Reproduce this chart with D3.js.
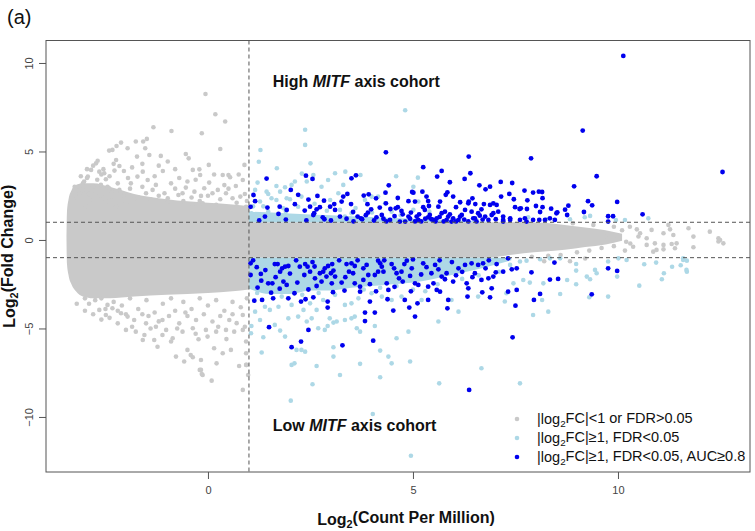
<!DOCTYPE html>
<html>
<head>
<meta charset="utf-8">
<script src="https://cdn.jsdelivr.net/npm/d3@7"></script>
<style>
  body { margin: 0; background: #fff; }
  svg { display: block; font-family: "Liberation Sans", Arial, sans-serif; }
</style>
</head>
<body>
<svg id="chart" width="755" height="531"></svg>
<script>
// axis ticks and thresholds
const xTicks = [0, 5, 10];
const yTicks = [-10, -5, 0, 5, 10];
const cpmCut = 1;   // log2 CPM cut (vertical dashed line)
const fcCut = 1;    // |log2FC| cut (horizontal dashed lines)

// dense grey core, left of the CPM cut: log2CPM, upper / lower log2FC edge
const funnelX   = [-3.45, -3.44, -3.4, -3.33, -3.22, -3.05, -2.8, -2.4, -1.8, -1.0, 0, 0.6, 1.0];
const funnelTop = [0, 1.5, 2.3, 2.8, 3.1, 3.2, 3.2, 3.0, 2.6, 2.3, 2.1, 2.0, 1.9];
const funnelBot = [0, -1.3, -2.0, -2.5, -2.9, -3.2, -3.3, -3.3, -3.2, -3.1, -3.0, -2.9, -2.8];

// dense grey band, right of the CPM cut
const bandX   = [1, 5, 6.8, 7.2, 7.7, 8.2, 8.7, 9.2, 9.7, 10.1];
const bandTop = [1, 1, 1, 1, 1, 0.97, 0.85, 0.7, 0.55, 0.35];
const bandBot = [-1, -1, -1, -0.9, -0.75, -0.65, -0.55, -0.4, -0.25, -0.05];

// dense light-blue strips just outside the FC cut
const lbLowX   = [1, 1.5, 2, 2.5, 3, 3.5, 4, 4.5, 5, 5.5, 6, 6.5, 7, 7.4];
const lbLowBot = [-2.75, -3.05, -3.05, -2.85, -2.85, -2.7, -2.6, -2.5, -2.4, -2.2, -1.95, -1.7, -1.4, -1.15];
const lbHighX   = [1, 2, 3, 4, 5, 6, 6.8];
const lbHighTop = [1.6, 1.5, 1.4, 1.3, 1.2, 1.12, 1.03];

// scattered genes: [log2CPM, log2FC]
const greyPoints = [
  [-0.06,8.25],[0.18,7.10],[0.42,6.69],[-0.15,6.03],[0.30,5.14],[-0.89,6.16],[-1.33,6.37],[-1.76,5.56],[-1.58,5.56],[-1.49,5.71],
  [-2.12,5.50],[-2.23,5.31],[-2.33,5.09],[-2.41,5.05],[-1.96,5.18],[-1.53,5.18],[-1.73,4.71],[-1.43,4.80],[-1.15,4.75],[-0.98,4.43],
  [-0.54,4.86],[-0.47,4.61],[0.02,4.24],[-0.37,3.96],[-0.21,3.99],[-0.19,3.67],[0.36,3.67],[0.50,3.67],[0.54,3.54],[0.89,4.24],
  [-2.69,4.48],[-2.73,4.33],[-2.85,3.96],[-2.93,3.58],[-3.02,3.30],[-3.10,3.01],[-3.14,2.64],[-2.24,4.52],[-2.16,4.18],[-2.28,3.92],
  [-2.65,3.86],[-2.53,3.77],[-2.49,3.43],[-2.61,3.11],[-2.41,2.92],[-2.16,2.83],[-2.33,2.45],[-1.88,3.20],[-1.72,3.58],[-1.59,3.86],
  [-1.47,3.39],[-1.35,2.83],[-1.27,3.11],[-1.51,2.64],[-1.80,2.36],[-2.00,2.07],[-1.06,2.64],[-0.98,2.36],[-0.72,2.54],[-0.62,2.64],
  [-0.54,2.96],[-0.33,2.73],[-0.17,2.49],[-0.09,2.92],[0.03,3.24],[0.11,2.64],[0.24,2.83],[0.44,2.64],[0.60,2.36],[0.68,3.05],
  [0.79,2.45],[-0.37,1.98],[-0.13,2.07],[0.20,1.98],[0.60,1.79],[0.93,1.88],[0.85,3.39],[-2.97,1.88],[-2.89,2.26],[-2.73,2.64],
  [-2.49,2.17],[-2.24,1.88],[-3.18,2.26],[-3.06,2.83],[-3.2,2.4],[-3.15,2.8],[-3.05,3.2],[-2.95,3.5],[-2.9,2.6],[-2.8,3.0],
  [-2.7,3.4],[-2.6,2.5],[-2.55,4.0],[-2.45,3.0],[-2.35,2.7],[-2.2,3.2],[-2.05,2.5],[-1.9,2.9],[-1.7,2.4],[-1.6,3.0],
  [-1.4,2.3],[-1.2,2.5],[-1.0,2.1],[-0.8,2.9],[-0.6,2.2],[-0.4,2.4],[-0.2,2.2],[0.0,2.5],[0.3,2.3],[0.5,2.9],
  [0.7,2.1],[0.9,2.6],[0.95,2.2],
  [-3.25,3.0],[-3.1,3.6],[-2.95,4.0],[-2.8,4.2],[-2.6,3.7],[-2.4,3.6],[-2.3,4.3],[-2.05,3.9],[-1.95,3.5],[-1.85,4.1],
  [-1.6,4.3],[-1.3,3.6],[-1.1,3.9],[-0.9,3.2],[-0.7,3.5],[-0.5,3.3],[-0.3,3.4],[0.15,3.7],[0.4,3.1],[0.75,3.7],
  [-1.2,4.2],[-0.8,4.0],
  [-2.65,-3.95],[-2.49,-4.24],[-2.20,-4.71],[-2.00,-5.08],[-1.76,-5.18],[-1.55,-5.37],[-1.59,-5.65],[-1.31,-5.65],[-1.23,-6.03],[-1.11,-5.37],
  [-0.86,-5.55],[-0.90,-5.74],[-0.78,-6.59],[-0.58,-6.87],[-0.42,-6.50],[-0.37,-6.63],[-0.17,-6.78],[-0.17,-7.34],[-0.13,-7.63],[0.09,-7.95],
  [0.21,-6.97],[0.15,-6.12],[0.36,-6.40],[0.56,-6.21],[0.76,-7.12],[0.93,-7.06],[0.85,-8.47],[-0.50,-6.21],[-0.23,-5.61],[-0.01,-5.46],
  [0.20,-5.18],[0.44,-5.08],[0.64,-5.18],[0.85,-5.08],[-0.05,-5.08],[-0.37,-4.99],[-0.62,-5.18],[-1.02,-5.08],[-1.27,-4.90],[-1.51,-4.71],
  [-1.80,-4.52],[-1.96,-4.33],[-2.12,-4.14],[-2.33,-3.86],[-2.45,-3.67],[-1.11,-4.52],[-0.70,-4.71],[-0.29,-4.52],[0.11,-4.61],[0.52,-4.52],
  [0.85,-4.24],[0.93,-6.40],[0.93,-5.74],[-0.20,-7.34],[-0.15,-7.57],[0.94,-7.06],[0.98,-7.63],
  [-3.1,-2.9],[-3.0,-3.3],[-2.9,-3.6],[-2.75,-3.4],[-2.6,-3.3],[-2.5,-3.9],[-2.3,-3.5],[-2.1,-3.7],[-1.9,-3.3],[-1.7,-3.9],
  [-1.5,-3.4],[-1.3,-4.1],[-1.1,-3.6],[-0.9,-3.3],[-0.8,-4.0],[-0.6,-3.5],[-0.4,-3.9],[-0.2,-3.3],[0.0,-3.7],[0.2,-3.4],
  [0.4,-4.0],[0.6,-3.5],[0.8,-3.8],[0.95,-3.3],[-1.6,-4.2],[-0.5,-4.3],[0.3,-4.3],[0.7,-4.7],
  [-3.2,-3.6],[-3.0,-4.0],[-2.8,-4.2],[-2.6,-4.5],[-2.4,-4.4],[-2.2,-4.0],[-2.0,-4.2],[-1.85,-4.9],[-1.45,-4.3],[-1.2,-4.6],
  [-0.95,-4.3],[-0.75,-5.0],[-0.55,-4.1],[-0.1,-4.2],[0.25,-4.9],[0.6,-4.2],[0.9,-4.9],[-1.4,-5.0],[-0.3,-5.3],[0.45,-5.6],
  [10.70,-0.28],[10.90,-0.19],[11.11,-0.28],[11.31,-0.23],[11.43,-0.19],[10.86,-0.66],[11.11,-0.53],[11.39,-0.47],[11.84,-0.41],[12.45,-0.09],
  [12.57,-0.19],[10.17,-0.60],[10.37,-0.38],[8.83,-1.2],[10.29,0.75],[10.46,0.60],[10.82,0.57],[11.23,0.85],[11.27,0.60],[11.84,0.19],
  [12.24,0.47],[12.45,0.09],[11.11,0.38],[11.72,0.66],[10.54,0.38],[12.49,0.0],[11.35,0.28],[10.94,-0.56],[8.3,-0.9],[8.6,-0.85],
  [9.0,-0.7],[9.3,-0.6],[9.6,-0.45],[9.9,-0.35],[10.1,0.55],[9.9,0.75],[9.4,0.85],[8.9,0.95],[10.3,-0.2],[10.5,0.2],
  [7.9,-0.95],[8.2,-1.2],[9.2,-1.05],[10.0,0.1],[10.2,-0.1],[9.7,0.2],[10.7,0.1]
];

const lightBluePoints = [
  [4.81,7.33],[2.37,6.23],[2.37,5.37],[1.28,5.08],[1.24,4.42],[2.50,4.33],[1.68,4.05],[2.29,3.75],[3.35,3.86],[3.72,3.67],
  [4.59,3.60],[5.12,3.52],[1.21,3.24],[1.15,2.83],[1.43,2.73],[1.47,2.60],[1.67,3.05],[1.76,2.73],[1.88,2.98],[2.12,3.30],
  [2.04,3.11],[1.67,2.26],[1.55,2.36],[1.84,1.79],[1.27,2.17],[1.06,1.51],[1.23,1.28],[1.47,1.60],[1.63,1.22],[1.92,2.36],
  [2.00,2.30],[2.20,1.88],[2.28,2.45],[2.77,3.01],[2.98,2.26],[3.18,2.64],[3.30,3.11],[3.22,1.70],[3.34,1.32],[3.50,1.51],
  [3.83,2.26],[3.99,2.45],[4.15,2.45],[4.32,2.07],[4.48,1.60],[4.56,1.22],[5.01,3.01],[5.01,1.70],[5.13,2.17],[2.57,3.67],
  [2.41,3.30],[2.93,3.39],[3.10,3.77],[8.83,1.17],[9.19,1.28],[9.32,1.36],[9.95,1.13],[10.17,1.13],[10.74,1.22],[8.26,1.17],
  [7.81,1.28],[1.1,1.9],[1.35,1.9],[1.9,1.6],[2.6,2.05],[2.9,1.65],[3.6,1.8],[4.0,1.55],[4.7,1.4],[5.4,1.6],
  [1.15,-4.05],[1.27,-4.52],[1.35,-5.50],[1.05,-5.27],[1.06,-4.86],[1.31,-6.36],[1.76,-5.12],[1.63,-4.80],[1.96,-4.43],[2.20,-4.33],
  [2.41,-4.61],[2.53,-4.43],[2.33,-3.95],[2.65,-3.95],[2.69,-4.99],[2.85,-5.08],[2.92,-4.86],[2.97,-4.43],[3.06,-4.67],[3.14,-4.61],
  [3.34,-4.52],[3.50,-4.43],[3.58,-4.33],[3.63,-4.99],[3.71,-5.18],[3.71,-7.00],[4.07,-4.86],[4.20,-6.25],[4.40,-6.59],[4.48,-6.97],
  [4.60,-5.55],[4.89,-5.18],[4.93,-6.87],[4.20,-7.76],[3.22,-7.63],[3.06,-6.06],[3.06,-6.59],[2.65,-7.12],[2.37,-6.31],[2.28,-6.21],
  [2.16,-6.21],[2.04,-7.06],[2.11,-6.97],[1.88,-5.46],[1.39,-3.77],[1.51,-3.95],[1.72,-3.77],[2.04,-3.67],[2.49,-3.58],[2.81,-3.39],
  [3.34,-3.67],[3.50,-3.58],[3.67,-3.30],[3.99,-3.01],[4.24,-3.20],[4.48,-3.39],[4.72,-3.20],[5.21,-3.39],[5.62,-4.61],[6.11,-4.05],
  [6.59,-3.20],[6.67,-7.25],[5.94,-3.39],
  [8.98,-1.73],[8.98,-1.36],[8.76,-2.26],[8.98,-2.50],[8.59,-3.05],[8.15,-3.39],[8.30,-4.05],[7.93,-4.24],[7.24,-3.48],[7.85,-2.41],
  [8.18,-2.45],[7.69,-2.26],[9.24,-2.07],[9.32,-2.22],[9.48,-1.88],[9.44,-1.69],[9.30,-3.24],[9.76,-3.20],[9.98,-2.07],[10.52,-2.58],
  [10.64,-1.37],[10.93,-1.28],[11.12,-1.88],[11.07,-2.22],[11.32,-1.51],[11.53,-1.43],[11.68,-1.79],[11.59,-1.04],[11.68,-1.17],[9.76,-1.22],
  [10.01,-1.04],[10.21,-1.13],[7.37,-1.41],[7.61,-1.22],[7.77,-1.17],[8.10,-1.09],[8.34,-1.04],[8.59,-1.04],[7.45,-2.45],[7.28,-3.01],
  [2.02,-9.08],[2.55,-8.15],[4.02,-9.83],[5.64,-8.10],[7.61,-8.10],[4.95,-12.19],[11.67,-1.69],[11.59,-1.13],
  [1.2,-3.0],[1.8,-3.2],[2.3,-3.1],[2.7,-3.0],[3.1,-3.1],[3.8,-2.8],[4.2,-2.7],[4.6,-2.6],[5.0,-2.8],[5.6,-2.5],
  [6.2,-2.2],[6.6,-2.0],[7.1,-1.8],[5.3,-2.9]
];

const bluePoints = [
  [10.13,10.4],[9.14,6.18],[12.55,3.84],[4.34,4.95],[6.36,4.71],[7.88,4.61],[5.25,4.11],[5.70,3.90],[6.40,3.77],[9.48,3.60],
  [2.39,3.63],[3.61,3.65],[3.50,3.48],[5.59,3.58],[1.43,3.47],[2.55,3.45],[6.26,3.45],[5.90,3.26],[4.41,3.09],[2.02,2.83],
  [1.11,2.54],[3.40,2.60],[3.80,2.51],[3.92,2.58],[4.33,2.67],[4.98,2.71],[5.23,2.73],[5.84,2.69],[6.62,3.09],[6.77,2.86],
  [6.88,3.01],[7.14,3.28],[7.42,3.22],[7.72,2.79],[7.93,2.68],[8.15,2.71],[8.93,3.03],[9.98,2.15],[9.27,2.19],[9.37,1.96],
  [10.60,1.45],[9.76,1.34],[9.88,1.34],[9.17,1.58],[8.79,1.94],[8.71,1.71],[8.52,1.56],[8.37,1.77],[8.10,1.58],[7.78,1.75],
  [7.60,1.75],[7.35,2.60],[7.15,2.45],[6.96,2.07],[6.73,2.03],[6.52,2.03],[6.36,2.17],[6.15,2.13],[5.98,2.45],[5.66,2.17],
  [5.33,2.45],[5.05,2.17],[4.89,2.19],[4.63,2.37],[4.58,1.79],[4.34,2.07],[4.19,1.83],[3.89,2.02],[3.90,1.54],[3.73,1.22],
  [3.54,1.58],[3.26,2.17],[2.98,1.88],[2.83,2.22],[2.67,2.49],[2.45,2.28],[2.12,2.02],[1.75,1.88],[1.45,1.83],[1.15,2.19],
  [1.04,1.87],[1.39,1.32],[2.80,1.28],[2.59,1.51],[3.22,1.32],[3.38,1.20],[4.28,1.20],[4.68,1.04],[4.93,1.20],[5.09,1.32],
  [5.37,1.28],[5.50,1.13],[5.70,1.51],[5.82,1.13],[5.98,1.22],[6.15,1.32],[6.47,1.22],[6.63,1.37],[6.84,1.13],[6.96,1.51],
  [7.20,1.13],[7.37,1.22],[7.61,1.13],[7.77,1.04],[7.93,1.13],[8.22,1.13],[8.46,1.13],[2.73,1.85],[2.36,1.66],[2.57,1.41],
  [3.08,2.03],[3.49,2.03],[3.65,1.32],[3.76,1.17],[3.98,1.73],[4.63,1.85],[4.72,1.64],[5.01,2.67],[5.37,2.20],[5.39,1.92],
  [5.29,1.70],[5.41,1.41],[5.45,1.17],[5.58,1.22],[5.62,1.88],[5.78,1.60],[5.86,1.32],[5.94,1.04],[6.11,1.13],[6.19,1.41],
  [6.27,1.70],[6.35,2.07],[6.43,1.60],[6.51,1.22],[6.59,1.51],[6.67,1.73],[6.76,1.32],[6.92,1.41],[4.24,1.41],[4.44,1.13],
  [4.89,1.32],[5.13,1.13],[4.81,1.04],[4.11,1.28],[2.84,1.17],[3.10,1.70],[1.92,1.70],[1.72,1.47],[2.49,1.88],[2.65,1.73],
  [7.46,2.30],[8.07,2.73],[8.16,2.36],[7.79,2.24],[6.88,1.98],[7.04,1.98],[7.49,1.85],[7.63,1.79],[8.00,1.92],[8.16,1.85],
  [8.50,1.51],[8.76,1.41],[9.76,1.04],[7.08,1.60],[7.20,1.32],[7.37,1.13],[7.73,1.22],[8.08,1.13],[8.34,1.22],[7.20,1.04],
  [7.02,1.17],
  [4.55,1.35],[4.75,1.45],[4.95,1.55],[5.15,1.45],[5.2,1.05],[5.3,1.2],[5.55,1.05],[5.65,1.3],[5.75,1.05],[5.9,1.45],
  [6.05,1.05],[6.25,1.15],[6.35,1.05],[6.55,1.05],[6.7,1.15],[5.05,1.05],[4.35,1.05],[4.05,1.1],[3.55,1.05],[3.0,1.1],
  [2.4,1.1],[1.9,1.15],[1.25,1.1],[3.85,1.4],[4.45,1.75],[5.25,1.85],[6.05,1.85],[6.45,2.35],[5.8,2.55],[4.1,2.35],
  [3.3,2.45],[2.2,2.55],
  [1.04,-1.32],[1.19,-1.54],[1.04,-1.98],[1.29,-1.92],[1.21,-2.69],[1.13,-3.43],[1.32,-3.39],[1.47,-2.45],[1.57,-2.45],[1.54,-2.98],
  [1.59,-3.30],[1.63,-1.36],[1.70,-1.36],[1.76,-1.79],[1.81,-1.60],[1.88,-1.51],[1.96,-1.47],[1.84,-2.35],[1.92,-2.54],[1.96,-3.30],
  [2.11,-3.01],[2.18,-2.41],[2.24,-1.51],[2.37,-1.36],[2.43,-1.51],[2.35,-1.98],[2.49,-1.79],[2.27,-3.48],[2.38,-3.35],[2.57,-3.24],
  [2.61,-2.17],[2.73,-1.88],[2.81,-1.79],[2.89,-2.07],[2.77,-2.35],[2.85,-1.60],[2.93,-1.47],[3.03,-1.36],[3.00,-1.88],[3.06,-1.73],
  [3.10,-2.07],[3.02,-2.45],[2.92,-3.48],[2.92,-3.82],[2.45,-5.08],[2.04,-6.06],[2.27,-5.74],[1.49,-4.93],[3.28,-5.95],[3.26,-2.41],
  [3.33,-2.86],[3.38,-1.36],[3.50,-1.32],[3.58,-1.47],[3.44,-1.79],[3.54,-1.88],[3.58,-2.45],[3.71,-2.64],[3.71,-2.92],[3.79,-1.60],
  [3.79,-2.26],[3.87,-1.41],[3.91,-1.98],[3.95,-3.48],[3.83,-4.10],[3.83,-4.58],[4.07,-4.10],[4.03,-5.69],[4.15,-1.17],[4.20,-1.32],
  [4.24,-1.51],[4.28,-1.79],[4.15,-1.79],[4.07,-1.98],[4.36,-2.45],[4.40,-2.82],[4.48,-1.36],[4.54,-1.60],[4.60,-1.88],[4.66,-2.17],
  [4.72,-1.79],[4.79,-1.36],[4.85,-1.17],[4.93,-2.03],[4.97,-1.60],[5.05,-2.45],[4.38,-3.35],[4.52,-3.99],[4.80,-3.39],[4.91,-3.82],
  [5.05,-4.33],[5.11,-3.58],[5.13,-2.54],[5.25,-1.32],[5.33,-1.54],[5.37,-3.39],[5.37,-2.64],[5.45,-1.88],[5.54,-1.41],[5.62,-1.66],
  [5.70,-2.07],[5.78,-2.22],[5.82,-1.88],[5.58,-2.82],[5.66,-2.92],[5.84,-3.86],[5.86,-3.39],[5.98,-2.35],[6.11,-1.60],[6.27,-1.41],
  [6.43,-1.32],[6.59,-1.41],[6.71,-1.32],[6.31,-2.45],[6.35,-2.73],[6.33,-3.20],[6.51,-1.88],[6.67,-2.26],[6.84,-2.17],[6.69,-2.96],
  [6.92,-2.73],[6.77,-1.60],[6.96,-2.07],[7.32,-1.04],[7.04,-1.36],[7.02,-1.83],[7.20,-1.79],[7.41,-1.66],[7.53,-1.60],[7.89,-1.83],
  [8.45,-1.28],[8.34,-2.24],[8.54,-2.20],[7.32,-2.92],[7.53,-2.82],[6.88,-3.24],[7.95,-3.39],[8.10,-3.05],[7.50,-3.71],[9.36,-3.07],
  [9.76,-1.60],[9.98,-1.75],[7.43,-5.50],[6.37,-8.47],
  [1.1,-1.15],[1.4,-1.7],[1.65,-2.1],[2.0,-1.9],[2.15,-1.15],[2.55,-1.25],[2.65,-2.6],[3.2,-1.15],[3.35,-2.1],[3.65,-1.15],
  [3.95,-2.5],[4.1,-2.9],[4.3,-1.15],[4.55,-2.65],[4.75,-2.35],[4.95,-2.9],[5.2,-1.95],[5.5,-2.45],[5.65,-1.15],[5.95,-1.25],
  [6.05,-2.0],[6.2,-1.8],[6.45,-2.1],[6.85,-1.15],[5.0,-1.1],[3.05,-2.95],[2.45,-2.8],[1.75,-2.75],[1.3,-2.3],[2.6,-1.5]
];

const legendLabels = [
  { color: "#c9c9c9", text: ["|log", "2", "FC|<1 or FDR>0.05"] },
  { color: "#add8e6", text: ["|log", "2", "FC|\u22651, FDR<0.05"] },
  { color: "#0000ee", text: ["|log", "2", "FC|\u22651, FDR<0.05, AUC\u22650.8"] }
];

const grey = "#c9c9c9", lightBlue = "#add8e6", blue = "#0000ee";
const svg = d3.select("#chart");
const frame = { left: 46, right: 750, top: 40.5, bottom: 472 };

const x = d3.scaleLinear().domain([-3.95, 13.22]).range([frame.left, frame.right]);
const y = d3.scaleLinear().domain([-13.11, 11.27]).range([frame.bottom, frame.top]);

const plot = svg.append("g");

const zip3 = (xs, a, b) => xs.map((v, i) => [v, a[i], b[i]]);
const area = d3.area()
  .x(d => x(d[0]))
  .y0(d => y(d[1]))
  .y1(d => y(d[2]))
  .curve(d3.curveMonotoneX);

// grey core
plot.append("path").attr("d", area(zip3(funnelX, funnelTop, funnelBot))).attr("fill", grey);
plot.append("path").attr("d", area(zip3(bandX, bandTop, bandBot))).attr("fill", grey);
plot.append("g").selectAll("circle").data(greyPoints).join("circle")
  .attr("cx", d => x(d[0])).attr("cy", d => y(d[1])).attr("r", 2.3).attr("fill", grey);

// light blue
plot.append("path")
  .attr("d", area(lbLowX.map((v, i) => [v, -fcCut, lbLowBot[i]])))
  .attr("fill", lightBlue);
plot.append("path")
  .attr("d", area(lbHighX.map((v, i) => [v, fcCut, lbHighTop[i]])))
  .attr("fill", lightBlue);
plot.append("g").selectAll("circle").data(lightBluePoints).join("circle")
  .attr("cx", d => x(d[0])).attr("cy", d => y(d[1])).attr("r", 2.3).attr("fill", lightBlue);

// blue
plot.append("g").selectAll("circle").data(bluePoints).join("circle")
  .attr("cx", d => x(d[0])).attr("cy", d => y(d[1])).attr("r", 2.4).attr("fill", blue);

// cut lines
const cuts = svg.append("g").attr("stroke", "#555").attr("stroke-width", 1).attr("stroke-dasharray", "4,3");
[fcCut, -fcCut].forEach(v => {
  cuts.append("line").attr("x1", frame.left).attr("x2", frame.right).attr("y1", y(v)).attr("y2", y(v));
});
cuts.append("line").attr("x1", x(cpmCut)).attr("x2", x(cpmCut)).attr("y1", frame.top).attr("y2", frame.bottom);

// frame
svg.append("rect")
  .attr("x", frame.left).attr("y", frame.top)
  .attr("width", frame.right - frame.left).attr("height", frame.bottom - frame.top)
  .attr("fill", "none").attr("stroke", "#555").attr("stroke-width", 1);

// axes
const xAxis = svg.append("g")
  .attr("transform", `translate(0,${frame.bottom})`)
  .call(d3.axisBottom(x).tickValues(xTicks).tickSize(7).tickPadding(7).tickFormat(d3.format("d")));
const yAxis = svg.append("g")
  .attr("transform", `translate(${frame.left},0)`)
  .call(d3.axisLeft(y).tickValues(yTicks).tickSize(7).tickFormat(d3.format("d")));
[xAxis, yAxis].forEach(g => {
  g.select(".domain").remove();
  g.selectAll(".tick line").attr("stroke", "#555");
  g.selectAll("text").attr("fill", "#444").attr("font-size", 11)
    .attr("font-family", "'Liberation Sans', Arial, sans-serif");
});
yAxis.selectAll("text")
  .attr("transform", "rotate(-90)")
  .attr("x", 0).attr("y", -13).attr("dy", 0)
  .attr("text-anchor", "middle");

// titles
const sub = (t, parts, size) => {
  t.append("tspan").text(parts[0]);
  t.append("tspan").attr("font-size", size * 0.68).attr("dy", "0.3em").text(parts[1]);
  t.append("tspan").attr("dy", "-0.3em").text(parts[2]);
};

const xt = svg.append("text").attr("x", 406).attr("y", 525)
  .attr("text-anchor", "middle").attr("font-weight", "bold").attr("font-size", 16).attr("fill", "#111");
sub(xt, ["Log", "2", "(Count Per Million)"], 16);

const yt = svg.append("text").attr("transform", `translate(15,${(frame.top + frame.bottom) / 2}) rotate(-90)`)
  .attr("text-anchor", "middle").attr("font-weight", "bold").attr("font-size", 16).attr("fill", "#111");
sub(yt, ["Log", "2", "(Fold Change)"], 16);

svg.append("text").attr("x", 7).attr("y", 24).attr("font-size", 20).attr("fill", "#111").text("(a)");

// cohort annotations
const cohort = (label, xv, yv) => {
  const t = svg.append("text").attr("x", x(xv)).attr("y", y(yv))
    .attr("font-weight", "bold").attr("font-size", 16).attr("fill", "#111");
  t.append("tspan").text(label + " ");
  t.append("tspan").attr("font-style", "italic").text("MITF");
  t.append("tspan").text(" axis cohort");
};
cohort("High", 1.58, 8.62);
cohort("Low", 1.58, -10.8);

// legend
const legend = svg.append("g").attr("transform", "translate(517,419)");
legendLabels.forEach((d, i) => {
  const row = legend.append("g").attr("transform", `translate(0,${i * 19})`);
  row.append("circle").attr("r", 2.3).attr("fill", d.color);
  const t = row.append("text").attr("x", 20).attr("y", 5).attr("font-size", 14.5).attr("fill", "#111");
  sub(t, d.text, 14.5);
});
</script>
</body>
</html>
